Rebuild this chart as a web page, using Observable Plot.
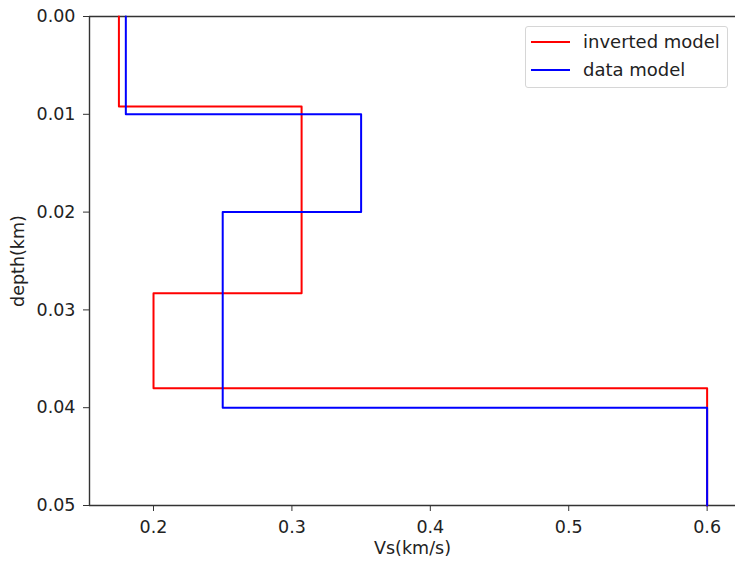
<!DOCTYPE html>
<html>
<head>
<meta charset="utf-8">
<script src="https://cdn.jsdelivr.net/npm/d3@7"></script>
<script src="https://cdn.jsdelivr.net/npm/@observablehq/plot@0.6"></script>
<style>
  html, body { margin: 0; padding: 0; background: #fff; }
  #wrap { position: relative; width: 735px; height: 564px; font-family: "DejaVu Sans", sans-serif; }
  #legend { position: absolute; left: 525px; top: 26px; width: 203px; height: 62px; border: 1px solid #d6d6d6; border-radius: 3px; background: rgba(255,255,255,0.8); box-sizing: border-box; font-size: 18px; color: #222; }
  .row { position: absolute; left: 0; height: 22px; }
  .sw { position: absolute; left: 5px; width: 39px; height: 2px; }
  .lab { position: absolute; left: 57px; white-space: nowrap; line-height: 22px; }
</style>
</head>
<body>
<div id="wrap"></div>
<script>
// Layer models: velocity (km/s) and top depth (km) of each layer
const bottomDepth = 0.05;
const invertedVs = [0.175, 0.307, 0.2, 0.6];
const invertedTop = [0, 0.0092, 0.0283, 0.038];
const dataVs = [0.18, 0.35, 0.25, 0.6];
const dataTop = [0, 0.01, 0.02, 0.04];
const xTicks = [0.2, 0.3, 0.4, 0.5, 0.6];
const yTicks = [0, 0.01, 0.02, 0.03, 0.04, 0.05];
const seriesNames = ["inverted model", "data model"];
const seriesColors = ["red", "blue"];

function stepPoints(vs, tops, name) {
  const pts = [];
  vs.forEach((v, i) => {
    const bot = i + 1 < tops.length ? tops[i + 1] : bottomDepth;
    pts.push({vs: v, depth: tops[i], model: name});
    pts.push({vs: v, depth: bot, model: name});
  });
  return pts;
}
const inverted = stepPoints(invertedVs, invertedTop, seriesNames[0]);
const dataModel = stepPoints(dataVs, dataTop, seriesNames[1]);

const xDomain = [0.15375, 0.6205];
const chart = Plot.plot({
  width: 735,
  height: 564,
  marginLeft: 89,
  marginRight: 0,
  marginTop: 16,
  marginBottom: 59,
  style: {fontFamily: "DejaVu Sans, sans-serif", fontSize: "17.5px", color: "#222", background: "white"},
  x: {domain: xDomain, ticks: xTicks, tickFormat: d => String(d), label: null},
  y: {domain: [0, 0.05], reverse: true, ticks: yTicks, tickFormat: d3.format(".2f"), label: null},
  marks: [
    Plot.axisX({ticks: xTicks, tickFormat: d => String(d), tickSize: 6, tickPadding: 9, stroke: "#333", fill: "#222", label: null}),
    Plot.axisY({ticks: yTicks, tickFormat: d3.format(".2f"), tickSize: 6, tickPadding: 8, stroke: "#333", fill: "#222", label: null}),
    Plot.ruleY([0], {stroke: "#333", strokeWidth: 1.4}),
    Plot.ruleY([0.05], {stroke: "#333", strokeWidth: 1.4}),
    Plot.ruleX([xDomain[0]], {stroke: "#333", strokeWidth: 1.4}),
    Plot.line(inverted, {x: "vs", y: "depth", stroke: seriesColors[0], strokeWidth: 2, curve: "linear"}),
    Plot.line(dataModel, {x: "vs", y: "depth", stroke: seriesColors[1], strokeWidth: 2, curve: "linear"}),
    Plot.text(["Vs(km/s)"], {frameAnchor: "bottom", dy: 48, fill: "#222"}),
    Plot.text(["depth(km)"], {frameAnchor: "left", dx: -71, rotate: -90, textAnchor: "middle", fill: "#222"})
  ]
});
const wrap = document.getElementById("wrap");
wrap.appendChild(chart);

const legend = document.createElement("div");
legend.id = "legend";
seriesNames.forEach((name, i) => {
  const row = document.createElement("div");
  row.className = "row";
  row.style.top = (4 + i * 28) + "px";
  const sw = document.createElement("div");
  sw.className = "sw";
  sw.style.background = seriesColors[i];
  sw.style.top = "10px";
  const lab = document.createElement("div");
  lab.className = "lab";
  lab.textContent = name;
  lab.style.top = "0px";
  row.appendChild(sw);
  row.appendChild(lab);
  legend.appendChild(row);
});
wrap.appendChild(legend);
</script>
</body>
</html>
